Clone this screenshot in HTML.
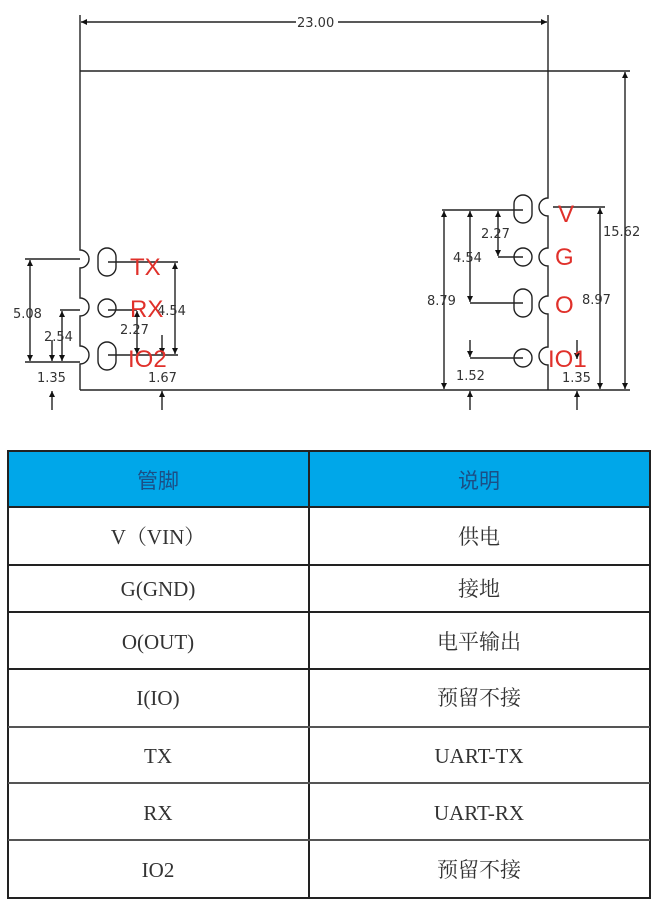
<!DOCTYPE html>
<html><head><meta charset="utf-8"><style>
html,body{margin:0;padding:0;background:#fff;width:660px;height:909px;overflow:hidden}
svg{display:block}
.d{font-family:"DejaVu Sans","Liberation Sans",sans-serif;font-size:13px;fill:#333}
.r{font-family:"Liberation Sans",sans-serif;font-size:24px;fill:#e0302a}
.t{font-family:"Liberation Serif","Noto Serif CJK SC",serif;font-size:21px;fill:#333}
.h{font-family:"Liberation Sans","Noto Sans CJK SC",sans-serif;font-size:21px;fill:#1b4f86}
</style></head><body>
<svg width="660" height="909" viewBox="0 0 660 909" xmlns="http://www.w3.org/2000/svg">
<defs>
<marker id="a" viewBox="0 0 10 10" refX="10" refY="5" markerWidth="11" markerHeight="6" orient="auto-start-reverse" markerUnits="userSpaceOnUse"><path d="M0,0L10,5L0,10z" fill="#111"/></marker>
</defs>
<g stroke="#222" stroke-width="1.4" fill="none">
<line x1="80" y1="15" x2="80" y2="71"/>
<line x1="548" y1="15" x2="548" y2="71"/>
<line x1="81" y1="22" x2="296" y2="22" marker-start="url(#a)"/>
<line x1="338" y1="22" x2="547" y2="22" marker-end="url(#a)"/>
<line x1="80" y1="71" x2="630" y2="71"/>
<line x1="80" y1="390" x2="630" y2="390"/>
<path d="M80 71 V250 A9 9 0 0 1 80 268 V298 A9 9 0 0 1 80 316 V346 A9 9 0 0 1 80 364 V390"/>
<path d="M548 71 V198 A9 9 0 0 0 548 216 V248 A9 9 0 0 0 548 266 V296 A9 9 0 0 0 548 314 V347 A9 9 0 0 0 548 365 V390"/>
<rect x="98" y="248" width="18" height="28" rx="9"/>
<circle cx="107" cy="308" r="9"/>
<rect x="98" y="342" width="18" height="28" rx="9"/>
<rect x="514" y="195" width="18" height="28" rx="9"/>
<circle cx="523" cy="257" r="9"/>
<rect x="514" y="289" width="18" height="28" rx="9"/>
<circle cx="523" cy="358" r="9"/>
<line x1="25" y1="259" x2="80" y2="259"/>
<line x1="25" y1="362" x2="80" y2="362"/>
<line x1="30" y1="260" x2="30" y2="361" marker-start="url(#a)" marker-end="url(#a)"/>
<line x1="60" y1="310" x2="80" y2="310"/>
<line x1="62" y1="311" x2="62" y2="361" marker-start="url(#a)" marker-end="url(#a)"/>
<line x1="52" y1="340" x2="52" y2="361" marker-end="url(#a)"/>
<line x1="52" y1="410" x2="52" y2="391" marker-end="url(#a)"/>
<line x1="108" y1="262" x2="178" y2="262"/>
<line x1="108" y1="355" x2="178" y2="355"/>
<line x1="175" y1="263" x2="175" y2="354" marker-start="url(#a)" marker-end="url(#a)"/>
<line x1="108" y1="310" x2="137" y2="310"/>
<line x1="137" y1="311" x2="137" y2="354" marker-start="url(#a)" marker-end="url(#a)"/>
<line x1="162" y1="335" x2="162" y2="354" marker-end="url(#a)"/>
<line x1="162" y1="410" x2="162" y2="391" marker-end="url(#a)"/>
<line x1="442" y1="210" x2="523" y2="210"/>
<line x1="444" y1="211" x2="444" y2="389" marker-start="url(#a)" marker-end="url(#a)"/>
<line x1="470" y1="211" x2="470" y2="302" marker-start="url(#a)" marker-end="url(#a)"/>
<line x1="470" y1="303" x2="523" y2="303"/>
<line x1="498" y1="211" x2="498" y2="256" marker-start="url(#a)" marker-end="url(#a)"/>
<line x1="498" y1="257" x2="523" y2="257"/>
<line x1="470" y1="340" x2="470" y2="357" marker-end="url(#a)"/>
<line x1="470" y1="358" x2="523" y2="358"/>
<line x1="470" y1="410" x2="470" y2="391" marker-end="url(#a)"/>
<line x1="553" y1="207" x2="605" y2="207"/>
<line x1="600" y1="208" x2="600" y2="389" marker-start="url(#a)" marker-end="url(#a)"/>
<line x1="625" y1="72" x2="625" y2="389" marker-start="url(#a)" marker-end="url(#a)"/>
<line x1="577" y1="340" x2="577" y2="359" marker-end="url(#a)"/>
<line x1="577" y1="410" x2="577" y2="391" marker-end="url(#a)"/>
</g>
<g class="d">
<text x="297" y="27">23.00</text>
<text x="13" y="318">5.08</text>
<text x="44" y="341">2.54</text>
<text x="37" y="382">1.35</text>
<text x="157" y="315">4.54</text>
<text x="120" y="334">2.27</text>
<text x="148" y="382">1.67</text>
<text x="481" y="238">2.27</text>
<text x="453" y="262">4.54</text>
<text x="427" y="305">8.79</text>
<text x="582" y="304">8.97</text>
<text x="603" y="236">15.62</text>
<text x="456" y="380">1.52</text>
<text x="562" y="382">1.35</text>
</g>
<g class="r">
<text x="130" y="275">TX</text>
<text x="130" y="317">RX</text>
<text x="128" y="367">IO2</text>
<text x="558" y="222">V</text>
<text x="555" y="265">G</text>
<text x="555" y="313">O</text>
<text x="548" y="367">IO1</text>
</g>
<rect x="8" y="451" width="642" height="56" fill="#00a7e9"/>
<g stroke="#222" stroke-width="2" fill="none">
<rect x="8" y="451" width="642" height="447"/>
<line x1="309" y1="451" x2="309" y2="898"/>
<line x1="8" y1="507" x2="650" y2="507"/>
<line x1="8" y1="565" x2="650" y2="565"/>
<line x1="8" y1="612" x2="650" y2="612"/>
<line x1="8" y1="669" x2="650" y2="669"/>
<line x1="8" y1="727" x2="650" y2="727" stroke="#555"/>
<line x1="8" y1="783" x2="650" y2="783" stroke="#555"/>
<line x1="8" y1="840" x2="650" y2="840" stroke="#555"/>
</g>
<g text-anchor="middle">
<text class="h" x="158" y="488">管脚</text>
<text class="h" x="479" y="488">说明</text>
<g class="t">
<text x="158" y="544">V（VIN）</text>
<text x="158" y="596">G(GND)</text>
<text x="158" y="649">O(OUT)</text>
<text x="158" y="705">I(IO)</text>
<text x="158" y="763">TX</text>
<text x="158" y="820">RX</text>
<text x="158" y="877">IO2</text>
<text x="479" y="544">供电</text>
<text x="479" y="596">接地</text>
<text x="479" y="649">电平输出</text>
<text x="479" y="705">预留不接</text>
<text x="479" y="763">UART-TX</text>
<text x="479" y="820">UART-RX</text>
<text x="479" y="877">预留不接</text>
</g>
</g>
</svg>
</body></html>
